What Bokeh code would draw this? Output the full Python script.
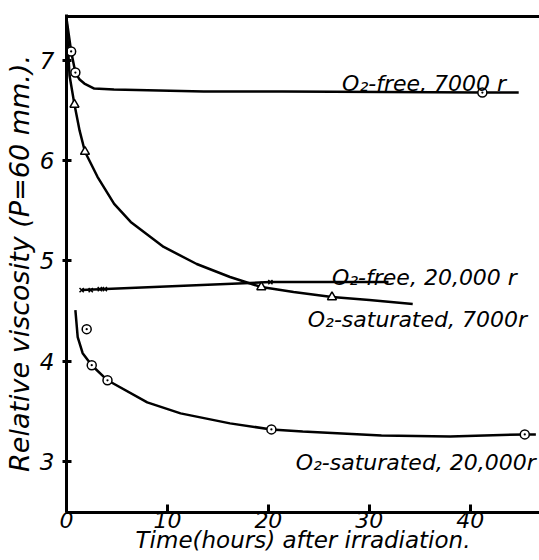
from bokeh.plotting import figure
from bokeh.models import Label, Span, Range1d, FixedTicker
from bokeh.embed import file_html
from bokeh.resources import INLINE

# ---- data ----
x_ticks = [0, 10, 20, 30, 40]
y_ticks = [3, 4, 5, 6, 7]

# O2-free, 7000 r  (open circles)
free7000_pts_t = [0.46, 0.88, 41.2]
free7000_pts_v = [7.09, 6.88, 6.68]
free7000_curve_t = [0, 0.46, 0.88, 1.3, 1.77, 2.75, 4.7, 13.6, 21.4, 41.2, 44.8]
free7000_curve_v = [7.42, 7.09, 6.88, 6.81, 6.77, 6.72, 6.71, 6.69, 6.69, 6.68, 6.68]

# O2-saturated, 7000 r  (triangles)
sat7000_pts_t = [0.79, 1.83, 19.3, 26.3]
sat7000_pts_v = [6.56, 6.09, 4.74, 4.64]
sat7000_curve_t = [0, 0.3, 0.79, 1.3, 1.83, 3.07, 4.72, 6.36, 9.63, 12.9, 16.2, 19.3, 22.5, 26.3, 30.0, 34.3]
sat7000_curve_v = [7.42, 6.85, 6.56, 6.30, 6.09, 5.84, 5.57, 5.39, 5.14, 4.97, 4.84, 4.74, 4.69, 4.64, 4.61, 4.57]

# O2-free, 20,000 r  (crosses)
free20000_pts_t = [1.5, 2.4, 3.3, 3.8, 20.2]
free20000_pts_v = [4.71, 4.71, 4.72, 4.72, 4.79]
free20000_curve_t = [1.5, 20.2, 31.9]
free20000_curve_v = [4.71, 4.79, 4.79]

# O2-saturated, 20,000 r  (open circles)
sat20000_pts_t = [2.0, 2.5, 4.06, 20.3, 45.4]
sat20000_pts_v = [4.32, 3.96, 3.81, 3.32, 3.27]
sat20000_curve_t = [0.88, 1.11, 1.6, 2.5, 4.06, 8.0, 11.3, 16.2, 20.3, 23.4, 31.2, 38.0, 45.4, 46.5]
sat20000_curve_v = [4.51, 4.24, 4.08, 3.96, 3.81, 3.59, 3.48, 3.38, 3.32, 3.30, 3.26, 3.25, 3.27, 3.27]

series_names = ["O\u2082-free, 7000 r", "O\u2082-free, 20,000 r",
                "O\u2082-saturated, 7000r", "O\u2082-saturated, 20,000r"]
x_title = "Time(hours) after irradiation."
y_title = "Relative viscosity (P=60 mm.)."

FONT = "DejaVu Sans"

p = figure(width=539, height=560, output_backend="svg", toolbar_location=None,
           x_range=Range1d(0, 46.86), y_range=Range1d(2.491, 7.459),
           min_border_left=62, min_border_right=0, min_border_top=14,
           min_border_bottom=48)
p.outline_line_color = None
p.xgrid.visible = False
p.ygrid.visible = False
p.background_fill_color = "white"
p.border_fill_color = "white"

for ax in (p.xaxis[0], p.yaxis[0]):
    ax.axis_line_width = 3
    ax.axis_line_color = "black"
    ax.major_tick_line_width = 3
    ax.major_tick_line_color = "black"
    ax.minor_tick_line_color = None
    ax.major_label_text_font = FONT
    ax.major_label_text_font_style = "italic"
    ax.major_label_text_color = "black"
    ax.axis_label_text_font = FONT
    ax.axis_label_text_font_style = "italic"
    ax.axis_label_text_color = "black"

p.xaxis.ticker = FixedTicker(ticks=x_ticks)
p.yaxis.ticker = FixedTicker(ticks=y_ticks)
p.xaxis.major_label_text_font_size = "22px"
p.yaxis.major_label_text_font_size = "23px"
p.xaxis.major_tick_in = 8
p.xaxis.major_tick_out = 0
p.xaxis.major_label_standoff = -1
p.yaxis.major_tick_in = 5
p.yaxis.major_tick_out = 4
p.yaxis.major_label_standoff = 8

p.yaxis.axis_label = y_title
p.yaxis.axis_label_text_font_size = "27px"
p.yaxis.axis_label_standoff = 2

p.xaxis.axis_label = x_title
p.xaxis.axis_label_text_font_size = "23px"
p.xaxis.axis_label_standoff = -4

# top frame line
p.add_layout(Span(location=7.44, dimension="width", line_color="black", line_width=3))

LW = 2.5
p.line(free7000_curve_t, free7000_curve_v, line_color="black", line_width=LW)
p.line(sat7000_curve_t, sat7000_curve_v, line_color="black", line_width=LW)
p.line(free20000_curve_t, free20000_curve_v, line_color="black", line_width=LW)
p.line(sat20000_curve_t, sat20000_curve_v, line_color="black", line_width=LW)

p.scatter(free7000_pts_t, free7000_pts_v, marker="circle_dot", size=9,
          fill_color="white", line_color="black", line_width=1.5)
p.scatter(sat20000_pts_t, sat20000_pts_v, marker="circle_dot", size=9,
          fill_color="white", line_color="black", line_width=1.5)
p.scatter(sat7000_pts_t, sat7000_pts_v, marker="triangle", size=9,
          fill_color="white", line_color="black", line_width=1.5)
p.scatter(free20000_pts_t, free20000_pts_v, marker="x", size=6,
          line_color="black", line_width=1.5)

label_pos = [(27.3, 6.77), (26.3, 4.835), (23.9, 4.413), (22.7, 2.993)]
for name, (lx, ly) in zip(series_names, label_pos):
    p.add_layout(Label(x=lx, y=ly, text=name, text_font=FONT,
                       text_font_style="italic", text_font_size="22px",
                       text_color="black", text_baseline="alphabetic"))

open("out.html", "w").write(file_html(p, INLINE))
